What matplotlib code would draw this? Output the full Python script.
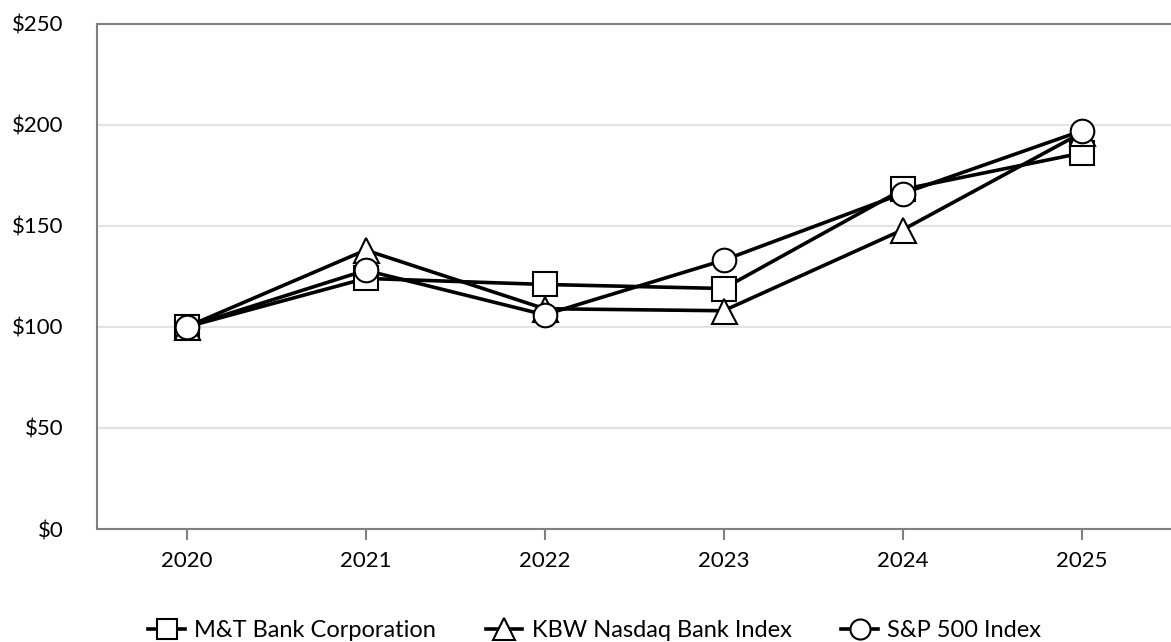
import matplotlib
matplotlib.use("Agg")
from matplotlib import pyplot as plt

plt.rcParams["font.family"] = ["Lato", "DejaVu Sans"]

years = ["2020", "2021", "2022", "2023", "2024", "2025"]
mtb = [100, 124, 121, 119, 168, 186]
kbw = [100, 138, 109, 108, 148, 196]
spx = [100, 128, 106, 133, 166, 197]

fig = plt.figure(figsize=(11.71, 6.42), dpi=100)
ax = fig.add_axes([0.083, 0.176, 0.917, 0.787])

x = range(len(years))
style = dict(color="black", lw=2.6, markerfacecolor="white",
             markeredgecolor="black", markeredgewidth=1.5)
ax.plot(x, mtb, marker="s", ms=17, label="M&T Bank Corporation", **style)
ax.plot(x, kbw, marker="^", ms=18, label="KBW Nasdaq Bank Index", **style)
ax.plot(x, spx, marker="o", ms=17, label="S&P 500 Index", **style)

ax.set_xlim(-0.5, len(years) - 0.5)
ax.set_ylim(0, 250)
ax.set_xticks(list(x))
ax.set_xticklabels(years)
ax.set_yticks(range(0, 251, 50))
ax.set_yticklabels(["${}".format(v) for v in range(0, 251, 50)])
ax.yaxis.grid(True, color="#e3e3e3", lw=1.5)
ax.set_axisbelow(True)

for side in ["left", "bottom", "top"]:
    ax.spines[side].set_color("#808080")
    ax.spines[side].set_linewidth(1.5)
ax.spines["right"].set_visible(False)
ax.tick_params(axis="x", length=8, width=1.5, color="#808080",
               labelsize=16, pad=8)
ax.tick_params(axis="y", length=0, labelsize=16, pad=24)

fig.legend(loc="center", bbox_to_anchor=(0.508, 0.018), ncol=3,
           frameon=False, fontsize=17, handlelength=1.55, markerscale=0.85,
           handletextpad=0.4, columnspacing=2.1)

plt.savefig("out.png", dpi=100)
